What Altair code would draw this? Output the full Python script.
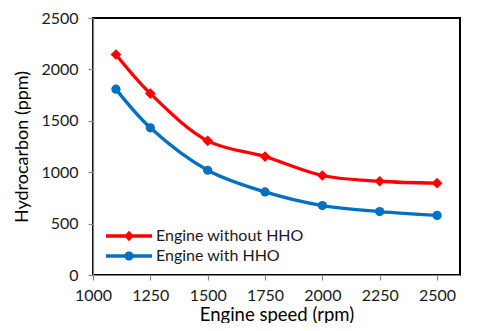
import altair as alt
import pandas as pd

speeds = [1100, 1250, 1500, 1750, 2000, 2250, 2500]
without_hho = [2145, 1765, 1305, 1152, 968, 912, 893]
with_hho = [1808, 1432, 1019, 808, 675, 617, 580]
series_names = ["Engine without HHO", "Engine with HHO"]
series_colors = ["#FF0000", "#0070C0"]
x_ticks = [1000, 1250, 1500, 1750, 2000, 2250, 2500]
y_ticks = [0, 500, 1000, 1500, 2000, 2500]

rows = []
for s, a, b in zip(speeds, without_hho, with_hho):
    rows.append({"speed": s, "hc": a, "series": series_names[0]})
    rows.append({"speed": s, "hc": b, "series": series_names[1]})
df = pd.DataFrame(rows)

FONT = "Lato"

x_enc = alt.X("speed:Q", scale=alt.Scale(domain=[1000, 2600], nice=False, zero=False),
              axis=alt.Axis(values=x_ticks, title="Engine speed (rpm)", format="d",
                            labelFlush=False, labelPadding=7, titleFontSize=18.5,
                            titleBaseline="alphabetic", titleY=45))
y_enc = alt.Y("hc:Q", scale=alt.Scale(domain=[0, 2500], nice=False),
              axis=alt.Axis(values=y_ticks, title="Hydrocarbon (ppm)", format="d",
                            labelFlush=False, labelPadding=10, titleFontSize=18,
                            titleBaseline="alphabetic", titleX=-66))

base = alt.Chart(df)

lines = base.mark_line(interpolate="catmull-rom", strokeWidth=3.3).encode(
    x=x_enc, y=y_enc,
    stroke=alt.Stroke("series:N", sort=series_names,
                      scale=alt.Scale(range=series_colors), legend=None),
)

pts_red = base.transform_filter(alt.datum.series == series_names[0]).mark_point(
    filled=True, shape="diamond", size=115, opacity=1
).encode(x=x_enc, y=y_enc,
         fill=alt.Fill("series:N", sort=series_names,
                       scale=alt.Scale(range=series_colors), legend=None))

pts_blue = base.transform_filter(alt.datum.series == series_names[1]).mark_point(
    filled=True, shape="circle", size=85, opacity=1
).encode(x=x_enc, y=y_enc,
         fill=alt.Fill("series:N", sort=series_names,
                       scale=alt.Scale(range=series_colors), legend=None))

diamond_path = "M-3,-0.22H3V0.22H-3Z M0,-0.68L0.62,0L0,0.68L-0.62,0Z"
circle_path = ("M-3,-0.22H3V0.22H-3Z M-0.6,0A0.6,0.6,0,1,1,0.6,0"
               "A0.6,0.6,0,1,1,-0.6,0Z")

leg = alt.Legend(title=None, orient="none", legendX=28, legendY=210,
                 symbolSize=235, symbolStrokeWidth=0, symbolOpacity=1,
                 labelOffset=19, rowPadding=4, padding=0,
                 labelFont=FONT, labelFontSize=16, labelColor="#1a1a1a")

legend_layer = base.mark_point(filled=True, opacity=0).encode(
    x=x_enc, y=y_enc,
    color=alt.Color("series:N", scale=alt.Scale(domain=series_names, range=series_colors),
                    legend=leg),
    shape=alt.Shape("series:N", scale=alt.Scale(domain=series_names,
                                                range=[diamond_path, circle_path]),
                    legend=leg),
)

chart = alt.layer(lines, pts_red, pts_blue, legend_layer).properties(
    width=367, height=257,
    autosize=alt.AutoSizeParams(type="none"),
    padding={"left": 85, "top": 10, "right": 12, "bottom": 48},
    background="white",
).configure_view(
    stroke="#000000", strokeWidth=2, fill="white"
).configure_axis(
    grid=False,
    domainColor="#868686", domainWidth=1.2,
    tickColor="#868686", tickSize=5, tickWidth=1.2,
    labelFont=FONT, labelFontSize=16, labelColor="#1a1a1a",
    titleFont=FONT, titleColor="#000000", titleFontWeight="normal",
)

chart.save("out.html", embed_options={"renderer": "svg", "actions": False})
